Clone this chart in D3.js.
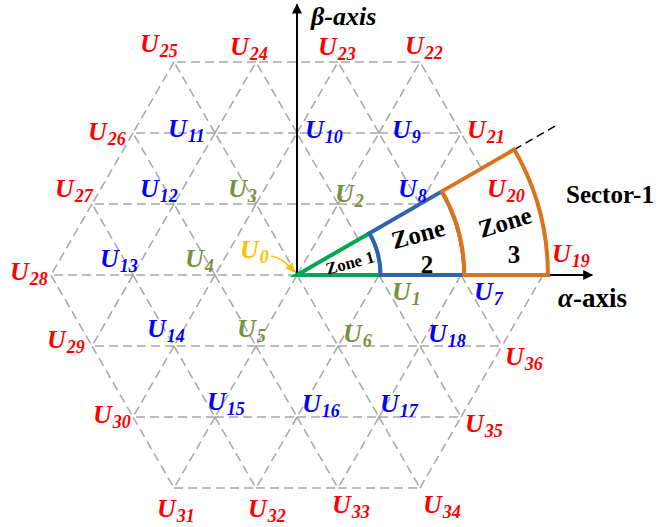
<!DOCTYPE html>
<html>
<head>
<meta charset="utf-8">
<script src="https://cdn.jsdelivr.net/npm/d3@7"></script>
<style>
  body { margin: 0; background: #fff; }
  svg { display: block; }
</style>
</head>
<body>
<svg id="chart" width="660" height="527"></svg>
<script>
// ---- Space-vector data (α in units of Vdc-step, β row index in multiples of √3/2) ----
const vectorIds   = [0, 1, 2, 3, 4, 5, 6,
                     7, 8, 9, 10, 11, 12, 13, 14, 15, 16, 17, 18,
                     19, 20, 21, 22, 23, 24, 25, 26, 27, 28, 29, 30, 31, 32, 33, 34, 35, 36];
const vectorAlpha = [0, 1, 0.5, -0.5, -1, -0.5, 0.5,
                     2, 1.5, 1, 0, -1, -1.5, -2, -1.5, -1, 0, 1, 1.5,
                     3, 2.5, 2, 1.5, 0.5, -0.5, -1.5, -2, -2.5, -3, -2.5, -2, -1.5, -0.5, 0.5, 1.5, 2, 2.5];
const vectorRow   = [0, 0, 1, 1, 0, -1, -1,
                     0, 1, 2, 2, 2, 1, 0, -1, -2, -2, -2, -1,
                     0, 1, 2, 3, 3, 3, 3, 2, 1, 0, -1, -2, -3, -3, -3, -3, -2, -1];
const vectorLevel = [0, 1, 1, 1, 1, 1, 1,
                     2, 2, 2, 2, 2, 2, 2, 2, 2, 2, 2, 2,
                     3, 3, 3, 3, 3, 3, 3, 3, 3, 3, 3, 3, 3, 3, 3, 3, 3, 3];

// Sector-1 zones
const zoneNames  = ["Zone 1", "Zone 2", "Zone 3"];
const zoneRadii  = [1.02, 2.04, 3.06];      // outer radius of each zone, units
const sectorSpan = [0, 30];                  // degrees
const sectorName = "Sector-1";
const axisNames  = { alpha: "α", beta: "β" };

// ---- Layout ----
const W = 660, H = 527;
const unit = 82;
const cx = 297, cy = 275;
const ROW = Math.sqrt(3) / 2;

const x = d3.scaleLinear().domain([0, 1]).range([cx, cx + unit]);
const y = d3.scaleLinear().domain([0, 1]).range([cy, cy - unit]);

const levelColor = ["#ffc000", "#76923c", "#0000ff", "#ff0000"];
const zoneColor  = ["#00a651", "#2e63ad", "#d9731c"];

// label anchor offsets (px) from each vector tip: [dx, dy] of the "U" start / baseline
const labelOffset = {
  0: [-57, -17], 1: [13, 25], 2: [-3, -2], 3: [-28, -7], 4: [-30, -8], 5: [-19, -9], 6: [5, -4],
  7: [13, 25], 8: [-22, -7], 9: [13, 5], 10: [8, 5], 11: [-47, 4], 12: [-34, -7], 13: [-33, -8],
  14: [-27, -9], 15: [-8, -7], 16: [5, -5], 17: [1, -5], 18: [8, -4],
  19: [9, -13], 20: [-15, -7], 21: [6, 5], 22: [-15, -8], 23: [-20, -7], 24: [-26, -7],
  25: [-34, -10], 26: [-45, 7], 27: [-37, -7], 28: [-41, 5], 29: [-45, 2], 30: [-40, 6],
  31: [-17, 29], 32: [-8, 29], 33: [-6, 25], 34: [3, 25], 35: [4, 15], 36: [3, 19]
};

const svg = d3.select("#chart");

const pts = vectorIds.map((id, i) => ({
  id, a: vectorAlpha[i], b: vectorRow[i] * ROW, row: vectorRow[i], level: vectorLevel[i]
}));

// ---- triangular grid: every pair of neighbouring vectors ----
const edges = [];
pts.forEach((p, i) => pts.forEach((q, j) => {
  if (j <= i) return;
  const d = Math.hypot(p.a - q.a, p.b - q.b);
  if (Math.abs(d - 1) < 1e-6) edges.push([p, q]);
}));

svg.append("g").selectAll("line").data(edges).join("line")
  .attr("x1", d => x(d[0].a)).attr("y1", d => y(d[0].b))
  .attr("x2", d => x(d[1].a)).attr("y2", d => y(d[1].b))
  .attr("stroke", "#a6a6a6").attr("stroke-width", 1.5)
  .attr("stroke-dasharray", "9,5");

// ---- axes ----
const defs = svg.append("defs");
defs.append("marker").attr("id", "arrowK")
  .attr("viewBox", "0 0 10 10").attr("refX", 9).attr("refY", 5)
  .attr("markerWidth", 6).attr("markerHeight", 5).attr("orient", "auto")
  .attr("markerUnits", "strokeWidth")
  .append("path").attr("d", "M0,0 L10,5 L0,10 z").attr("fill", "#000");
defs.append("marker").attr("id", "arrowY")
  .attr("viewBox", "0 0 10 10").attr("refX", 9).attr("refY", 5)
  .attr("markerWidth", 6).attr("markerHeight", 6).attr("orient", "auto")
  .attr("markerUnits", "strokeWidth")
  .append("path").attr("d", "M0,0 L10,5 L0,10 z").attr("fill", "#ffc000");

svg.append("line")
  .attr("x1", x(0)).attr("y1", y(0)).attr("x2", x(3.6)).attr("y2", y(0))
  .attr("stroke", "#000").attr("stroke-width", 2).attr("marker-end", "url(#arrowK)");
svg.append("line")
  .attr("x1", x(0)).attr("y1", y(0)).attr("x2", x(0)).attr("y2", y(3.3))
  .attr("stroke", "#000").attr("stroke-width", 2).attr("marker-end", "url(#arrowK)");

// ---- Sector-1 zones ----
const rad = d => d * Math.PI / 180;
const a0 = rad(sectorSpan[0]), a1 = rad(sectorSpan[1]);
const polar = (r, ang) => [x(r * Math.cos(ang)), y(r * Math.sin(ang))];

// extension of the sector edge beyond the outer zone
{
  const p0 = polar(zoneRadii[2], a1), p1 = polar(3.68, a1);
  svg.append("line").attr("x1", p0[0]).attr("y1", p0[1]).attr("x2", p1[0]).attr("y2", p1[1])
    .attr("stroke", "#000").attr("stroke-width", 1.5).attr("stroke-dasharray", "8,5");
}

zoneRadii.forEach((r, i) => {
  const rIn = i === 0 ? 0 : zoneRadii[i - 1];
  const R = x(r) - x(0), Ri = x(rIn) - x(0);
  const o1 = polar(r, a0), o2 = polar(r, a1);
  let d;
  if (rIn === 0) {
    d = `M${x(0)},${y(0)} L${o1[0]},${o1[1]} A${R},${R} 0 0 0 ${o2[0]},${o2[1]} Z`;
  } else {
    const i1 = polar(rIn, a0), i2 = polar(rIn, a1);
    d = `M${i1[0]},${i1[1]} L${o1[0]},${o1[1]} A${R},${R} 0 0 0 ${o2[0]},${o2[1]} ` +
        `L${i2[0]},${i2[1]} A${Ri},${Ri} 0 0 1 ${i1[0]},${i1[1]} Z`;
  }
  svg.append("path").attr("d", d)
    .attr("fill", "#fff").attr("stroke", zoneColor[i]).attr("stroke-width", 4)
    .attr("stroke-linejoin", "miter");
});

// zone captions
const serif = "'Liberation Serif', 'Times New Roman', serif";
const zoneText = [
  { t: zoneNames[0], pos: [350, 263], size: 17, rot: -15 },
  { t: zoneNames[1].split(" ")[0], pos: [418, 234], size: 25, rot: -15 },
  { t: zoneNames[1].split(" ")[1], pos: [427, 264], size: 25, rot: 0 },
  { t: zoneNames[2].split(" ")[0], pos: [505, 222], size: 25, rot: -17 },
  { t: zoneNames[2].split(" ")[1], pos: [514, 254], size: 25, rot: 0 }
];
svg.append("g").selectAll("text").data(zoneText).join("text")
  .attr("transform", d => `translate(${d.pos[0]},${d.pos[1]}) rotate(${d.rot})`)
  .attr("text-anchor", "middle").attr("dominant-baseline", "central")
  .attr("font-family", serif).attr("font-weight", "bold")
  .attr("font-size", d => d.size).attr("fill", "#000")
  .text(d => d.t);

// ---- U0 pointer ----
svg.append("path")
  .attr("d", `M${x(0) - 26},${y(0) - 19} Q${x(0) - 15},${y(0) - 18} ${x(0) - 3},${y(0) - 3}`)
  .attr("fill", "none").attr("stroke", "#ffc000").attr("stroke-width", 1.6)
  .attr("marker-end", "url(#arrowY)");

// ---- vector labels ----
const lab = svg.append("g").selectAll("text").data(pts).join("text")
  .attr("x", d => x(d.a) + labelOffset[d.id][0])
  .attr("y", d => y(d.b) + labelOffset[d.id][1])
  .attr("font-family", serif).attr("font-weight", "bold").attr("font-style", "italic")
  .attr("fill", d => levelColor[d.level]);
lab.append("tspan").attr("font-size", 26).text("U");
lab.append("tspan").attr("font-size", 18).attr("dx", 1).attr("dy", 5).text(d => d.id);

// ---- axis captions ----
const bl = svg.append("text").attr("x", 311).attr("y", 25)
  .attr("font-family", serif).attr("font-weight", "bold").attr("font-style", "italic")
  .attr("font-size", 26).attr("fill", "#000");
bl.text(axisNames.beta + "-axis");

const al = svg.append("text").attr("x", 558).attr("y", 307)
  .attr("font-family", serif).attr("font-weight", "bold")
  .attr("font-size", 27).attr("fill", "#000");
al.append("tspan").attr("font-style", "italic").text(axisNames.alpha);
al.append("tspan").text("-axis");

svg.append("text").attr("x", 566).attr("y", 203)
  .attr("font-family", serif).attr("font-weight", "bold")
  .attr("font-size", 25).attr("fill", "#000")
  .text(sectorName);
</script>
</body>
</html>
